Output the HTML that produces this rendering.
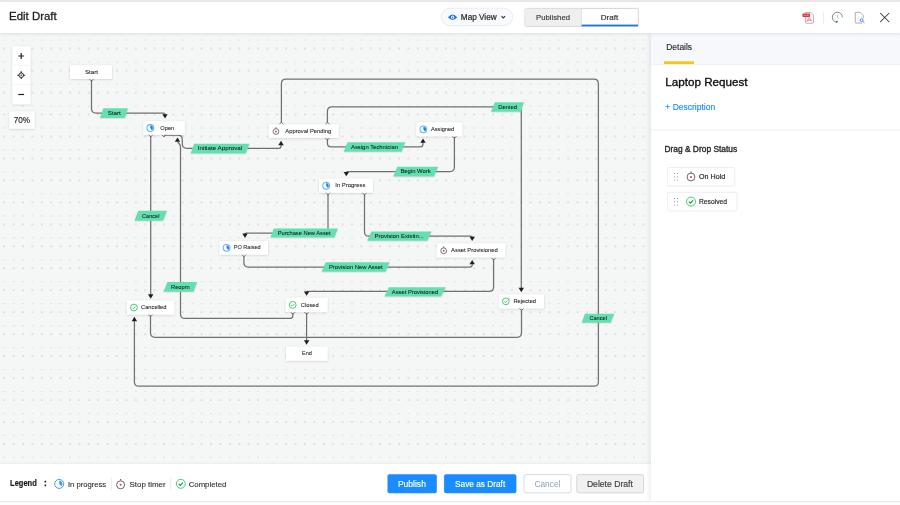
<!DOCTYPE html>
<html><head><meta charset="utf-8">
<style>
*{margin:0;padding:0;box-sizing:border-box}
html,body{width:900px;height:505px;overflow:hidden;background:#fff;font-family:"Liberation Sans",sans-serif;color:#222}
.abs{position:absolute}
#topline{left:0;top:0;width:900px;height:2px;background:#e9e9e9}
#header{left:0;top:2px;width:900px;height:31px;background:#fff;box-shadow:0 1px 3px rgba(0,0,0,0.10);z-index:5}
#canvas{left:0;top:33px;width:651px;height:431px;background:#f5f6f6;overflow:hidden}
#panel{left:651px;top:33px;width:249px;height:468px;background:#fff;box-shadow:-2px 0 4px rgba(0,0,0,0.07);z-index:4}
#footer{left:0;top:464px;width:651px;height:37px;background:#fff;box-shadow:0 -1px 2px rgba(0,0,0,0.05);z-index:3}
#bottom{left:0;top:501px;width:900px;height:4px;background:#fdfdfd;border-top:1px solid #e8e8e8;z-index:6}
svg text{font-family:"Liberation Sans",sans-serif}
svg{will-change:transform}
</style></head><body>
<div id="topline" class="abs"></div>
<div id="header" class="abs">
  <svg width="900" height="31" style="position:absolute;left:0;top:0" viewBox="0 2 900 31">
    <text x="9" y="19.5" font-size="11.6" fill="#1e1e1e" stroke="#1e1e1e" stroke-width="0.3" textLength="47.7" lengthAdjust="spacingAndGlyphs">Edit Draft</text>
    <!-- map view pill -->
    <rect x="441.3" y="8.2" width="71.4" height="17.4" rx="8.7" fill="#f9fafd" stroke="#e3e7ef" stroke-width="0.8"/>
    <path d="M448,17.2 Q452.6,11.8 457.2,17.2 Q452.6,22.6 448,17.2 Z" fill="#1f6fe0"/>
    <circle cx="452.6" cy="17.2" r="1.6" fill="#fff"/>
    <circle cx="452.6" cy="17.2" r="0.8" fill="#1f6fe0"/>
    <text x="460.8" y="20" font-size="9" fill="#222" stroke="#222" stroke-width="0.2" textLength="35.9" lengthAdjust="spacingAndGlyphs">Map View</text>
    <path d="M501.5,16.2 L503.3,18 L505.1,16.2" fill="none" stroke="#333" stroke-width="1.1"/>
    <!-- toggle -->
    <rect x="525" y="8.4" width="113.3" height="18" rx="1.5" fill="#fff" stroke="#c9c9c9" stroke-width="0.8"/>
    <rect x="525.4" y="8.8" width="56" height="17.2" fill="#efefef"/>
    <line x1="581.4" y1="8.6" x2="581.4" y2="26.2" stroke="#d4d4d4" stroke-width="0.6"/>
    <rect x="581.6" y="24.6" width="56.4" height="1.7" fill="#1a73e8"/>
    <text x="536" y="19.7" font-size="8" fill="#3a3a3a" stroke="#3a3a3a" stroke-width="0.15" textLength="34" lengthAdjust="spacingAndGlyphs">Published</text>
    <text x="600.8" y="19.7" font-size="8" fill="#2a2a2a" stroke="#2a2a2a" stroke-width="0.15" textLength="17.4" lengthAdjust="spacingAndGlyphs">Draft</text>
    <!-- pdf icon -->
    <path d="M805.6,12.5 H810.8 L813.4,15.1 V22.6 Q813.4,23.2 812.8,23.2 H806.2 Q805.6,23.2 805.6,22.6 Z" fill="#fff" stroke="#9a9a9a" stroke-width="0.75"/>
    <rect x="802.4" y="13.5" width="7.7" height="3.5" rx="1" fill="#e8323c"/>
    <path d="M803.8,15.3 H808.8" stroke="#fff" stroke-width="0.6" stroke-dasharray="1 0.5"/>
    <path d="M806.8,21.6 L809.3,17.6 L811.8,21.2 M807.6,20.3 H811" fill="none" stroke="#ef3a44" stroke-width="0.65"/>
    <line x1="823.6" y1="12" x2="823.6" y2="23.7" stroke="#e2e2e2" stroke-width="0.8"/>
    <!-- history -->
    <path d="M837.2,22.2 A5,5 0 1 1 842.3,17.3" fill="none" stroke="#707070" stroke-width="0.85"/>
    <path d="M837.6,14.6 V17.4 L838.8,18.4" fill="none" stroke="#9a9a9a" stroke-width="0.7"/>
    <circle cx="836.8" cy="21.8" r="1" fill="#1a73e8"/>
    <!-- doc search -->
    <path d="M855.3,12.4 H860.2 L863.2,15.4 V18.6 M862,23.1 H855.9 Q855.3,23.1 855.3,22.5 V12.4" fill="none" stroke="#9a9a9a" stroke-width="0.8"/>
    <path d="M857,15 V21 M858.5,16 V20" stroke="#e4e4e4" stroke-width="0.5"/>
    <circle cx="861.6" cy="20.2" r="1.4" fill="none" stroke="#2b7de9" stroke-width="0.85"/>
    <line x1="862.6" y1="21.2" x2="864.4" y2="22.9" stroke="#2b7de9" stroke-width="0.9"/>
    <!-- close -->
    <path d="M880.2,13 L889.2,22 M889.2,13 L880.2,22" stroke="#3a3a3a" stroke-width="1.05"/>
  </svg>
</div>

<div id="canvas" class="abs">
  <svg width="651" height="431" viewBox="0 33 651 431" style="position:absolute;left:0;top:0">
    <defs>
      <pattern id="dots" x="4.2" y="39.6" width="9.40" height="21.96" patternUnits="userSpaceOnUse">
        <rect x="-0.65" y="-0.65" width="1.3" height="1.3" fill="#c2c5c8"/>
        <rect x="-0.65" y="8.45" width="1.3" height="1.3" fill="#c2c5c8"/>
        <rect x="8.75" y="-0.65" width="1.3" height="1.3" fill="#c2c5c8"/>
        <rect x="8.75" y="8.45" width="1.3" height="1.3" fill="#c2c5c8"/>
      </pattern>
      <filter id="sh" x="-20%" y="-40%" width="140%" height="190%">
        <feDropShadow dx="0" dy="0.6" stdDeviation="0.9" flood-color="#000" flood-opacity="0.16"/>
      </filter>
      <filter id="lsh" x="-20%" y="-40%" width="140%" height="190%">
        <feDropShadow dx="0.3" dy="0.8" stdDeviation="0.6" flood-color="#c08080" flood-opacity="0.25"/>
      </filter>
    </defs>
    <rect x="0" y="33" width="651" height="431" fill="url(#dots)"/>
<path d="M91.50,80.00 L91.50,108.50 Q91.50,113.00 96.00,113.00 L163.50,113.00 Q165.00,113.00 165.00,114.50 L165.00,116.00" fill="none" stroke="#707070" stroke-width="1.25"/>
<path d="M162.30,114.20 L167.70,114.20 L165.00,118.60 Z" fill="#1e1e1e"/>
<path d="M163.90,135.10 L177.80,135.10 Q182.30,135.10 182.30,139.60 L182.30,143.80 Q182.30,148.30 186.80,148.30 L278.60,148.30 Q281.00,148.30 281.00,145.90 L281.00,143.50" fill="none" stroke="#707070" stroke-width="1.25"/>
<path d="M278.30,145.20 L283.70,145.20 L281.00,140.80 Z" fill="#1e1e1e"/>
<path d="M281.40,123.00 L281.40,83.50 Q281.40,79.00 285.90,79.00 L593.90,79.00 Q598.40,79.00 598.40,83.50 L598.40,381.70 Q598.40,386.20 593.90,386.20 L138.90,386.20 Q134.40,386.20 134.40,381.70 L134.40,319.50" fill="none" stroke="#707070" stroke-width="1.25"/>
<path d="M131.70,321.20 L137.10,321.20 L134.40,316.80 Z" fill="#1e1e1e"/>
<path d="M327.40,123.00 L327.40,111.40 Q327.40,106.90 331.90,106.90 L516.80,106.90 Q521.30,106.90 521.30,111.40 L521.30,289.50" fill="none" stroke="#707070" stroke-width="1.25"/>
<path d="M518.60,287.80 L524.00,287.80 L521.30,292.20 Z" fill="#1e1e1e"/>
<path d="M327.40,139.00 L327.40,142.90 Q327.40,146.80 331.30,146.80 L420.10,146.80 Q423.00,146.80 423.00,143.90 L423.00,141.00" fill="none" stroke="#707070" stroke-width="1.25"/>
<path d="M420.30,142.80 L425.70,142.80 L423.00,138.40 Z" fill="#1e1e1e"/>
<path d="M454.40,137.00 L454.40,167.10 Q454.40,171.60 449.90,171.60 L347.25,171.60 Q346.30,171.60 346.30,172.55 L346.30,173.50" fill="none" stroke="#707070" stroke-width="1.25"/>
<path d="M343.60,171.90 L349.00,171.90 L346.30,176.30 Z" fill="#1e1e1e"/>
<path d="M328.00,194.00 L328.00,228.70 Q328.00,233.20 323.50,233.20 L246.00,233.20 Q245.00,233.20 245.00,234.20 L245.00,235.20" fill="none" stroke="#707070" stroke-width="1.25"/>
<path d="M242.30,233.60 L247.70,233.60 L245.00,238.00 Z" fill="#1e1e1e"/>
<path d="M364.50,194.00 L364.50,231.70 Q364.50,236.20 369.00,236.20 L471.15,236.20 Q472.20,236.20 472.20,237.25 L472.20,238.30" fill="none" stroke="#707070" stroke-width="1.25"/>
<path d="M469.50,236.70 L474.90,236.70 L472.20,241.10 Z" fill="#1e1e1e"/>
<path d="M243.90,256.00 L243.90,262.50 Q243.90,267.00 248.40,267.00 L470.00,267.00 Q472.20,267.00 472.20,264.80 L472.20,262.60" fill="none" stroke="#707070" stroke-width="1.25"/>
<path d="M469.50,264.30 L474.90,264.30 L472.20,259.90 Z" fill="#1e1e1e"/>
<path d="M493.60,259.00 L493.60,286.90 Q493.60,291.40 489.10,291.40 L307.40,291.40 Q306.60,291.40 306.60,292.20 L306.60,293.00" fill="none" stroke="#707070" stroke-width="1.25"/>
<path d="M303.90,291.40 L309.30,291.40 L306.60,295.80 Z" fill="#1e1e1e"/>
<path d="M292.80,313.00 L292.80,315.70 Q292.80,318.40 290.10,318.40 L185.00,318.40 Q180.50,318.40 180.50,313.90 L180.50,147.12 Q180.50,145.00 179.00,143.50 L177.50,142.00" fill="none" stroke="#707070" stroke-width="1.25"/>
<path d="M174.80,141.80 L180.20,141.80 L177.50,137.40 Z" fill="#1e1e1e"/>
<path d="M306.60,313.00 L306.60,342.00" fill="none" stroke="#707070" stroke-width="1.25"/>
<path d="M303.90,340.30 L309.30,340.30 L306.60,344.70 Z" fill="#1e1e1e"/>
<path d="M150.70,136.00 L150.70,296.00" fill="none" stroke="#707070" stroke-width="1.25"/>
<path d="M148.00,294.30 L153.40,294.30 L150.70,298.70 Z" fill="#1e1e1e"/>
<path d="M150.50,315.50 L150.50,332.80 Q150.50,337.30 155.00,337.30 L517.00,337.30 Q521.50,337.30 521.50,332.80 L521.50,309.50" fill="none" stroke="#707070" stroke-width="1.25"/>
<rect x="70.00" y="65.30" width="42.00" height="13.70" fill="#fff" filter="url(#sh)"/>
<text x="84.90" y="73.70" textLength="13.10" lengthAdjust="spacingAndGlyphs" font-size="6" fill="#1a1a1a" stroke="#1a1a1a" stroke-width="0.07">Start</text>
<rect x="143.30" y="121.20" width="41.50" height="13.60" fill="#fff" filter="url(#sh)"/>
<circle cx="150.30" cy="128.00" r="3.40" fill="#fff" stroke="#62b3fb" stroke-width="1.05"/><path d="M150.30,128.00 L150.30,125.35 A2.65,2.65 0 0 1 151.82,130.17 Z" fill="#1f80ea"/>
<text x="160.30" y="129.55" textLength="14.00" lengthAdjust="spacingAndGlyphs" font-size="6" fill="#1a1a1a" stroke="#1a1a1a" stroke-width="0.07">Open</text>
<rect x="268.90" y="124.30" width="69.90" height="13.60" fill="#fff" filter="url(#sh)"/>
<circle cx="275.90" cy="131.50" r="2.89" fill="none" stroke="#555" stroke-width="0.8"/><rect x="275.30" y="127.40" width="1.2" height="1" fill="#555"/><circle cx="275.90" cy="131.50" r="0.9" fill="#e53935"/>
<text x="285.30" y="132.65" textLength="46.00" lengthAdjust="spacingAndGlyphs" font-size="6" fill="#1a1a1a" stroke="#1a1a1a" stroke-width="0.07">Approval Pending</text>
<rect x="416.40" y="122.30" width="45.80" height="14.00" fill="#fff" filter="url(#sh)"/>
<circle cx="423.40" cy="129.30" r="3.40" fill="#fff" stroke="#62b3fb" stroke-width="1.05"/><path d="M423.40,129.30 L423.40,126.65 A2.65,2.65 0 0 1 424.92,131.47 Z" fill="#1f80ea"/>
<text x="431.00" y="130.85" textLength="23.20" lengthAdjust="spacingAndGlyphs" font-size="6" fill="#1a1a1a" stroke="#1a1a1a" stroke-width="0.07">Assigned</text>
<rect x="319.20" y="178.60" width="53.80" height="14.20" fill="#fff" filter="url(#sh)"/>
<circle cx="326.20" cy="185.70" r="3.40" fill="#fff" stroke="#62b3fb" stroke-width="1.05"/><path d="M326.20,185.70 L326.20,183.05 A2.65,2.65 0 0 1 327.72,187.87 Z" fill="#1f80ea"/>
<text x="335.30" y="187.25" textLength="30.10" lengthAdjust="spacingAndGlyphs" font-size="6" fill="#1a1a1a" stroke="#1a1a1a" stroke-width="0.07">In Progress</text>
<rect x="219.60" y="241.00" width="48.40" height="13.60" fill="#fff" filter="url(#sh)"/>
<circle cx="226.60" cy="247.80" r="3.40" fill="#fff" stroke="#62b3fb" stroke-width="1.05"/><path d="M226.60,247.80 L226.60,245.15 A2.65,2.65 0 0 1 228.12,249.97 Z" fill="#1f80ea"/>
<text x="233.80" y="249.35" textLength="26.80" lengthAdjust="spacingAndGlyphs" font-size="6" fill="#1a1a1a" stroke="#1a1a1a" stroke-width="0.07">PO Raised</text>
<rect x="436.70" y="243.40" width="68.40" height="13.90" fill="#fff" filter="url(#sh)"/>
<circle cx="443.70" cy="250.75" r="2.89" fill="none" stroke="#555" stroke-width="0.8"/><rect x="443.10" y="246.65" width="1.2" height="1" fill="#555"/><circle cx="443.70" cy="250.75" r="0.9" fill="#e53935"/>
<text x="451.10" y="251.90" textLength="46.70" lengthAdjust="spacingAndGlyphs" font-size="6" fill="#1a1a1a" stroke="#1a1a1a" stroke-width="0.07">Asset Provisioned</text>
<rect x="285.70" y="297.80" width="41.90" height="14.30" fill="#fff" filter="url(#sh)"/>
<circle cx="292.70" cy="304.95" r="3.40" fill="none" stroke="#35c46a" stroke-width="0.9"/><path d="M291.10,305.05 l1.10,1.10 l2.20,-2.20" fill="none" stroke="#35c46a" stroke-width="0.9"/>
<text x="300.80" y="306.50" textLength="17.90" lengthAdjust="spacingAndGlyphs" font-size="6" fill="#1a1a1a" stroke="#1a1a1a" stroke-width="0.07">Closed</text>
<rect x="286.00" y="346.90" width="41.60" height="13.90" fill="#fff" filter="url(#sh)"/>
<text x="302.10" y="355.40" textLength="9.80" lengthAdjust="spacingAndGlyphs" font-size="6" fill="#1a1a1a" stroke="#1a1a1a" stroke-width="0.07">End</text>
<rect x="126.90" y="300.50" width="47.40" height="14.10" fill="#fff" filter="url(#sh)"/>
<circle cx="133.90" cy="307.55" r="3.40" fill="none" stroke="#35c46a" stroke-width="0.9"/><path d="M132.30,307.65 l1.10,1.10 l2.20,-2.20" fill="none" stroke="#35c46a" stroke-width="0.9"/>
<text x="141.00" y="309.10" textLength="25.50" lengthAdjust="spacingAndGlyphs" font-size="6" fill="#1a1a1a" stroke="#1a1a1a" stroke-width="0.07">Cancelled</text>
<rect x="498.90" y="294.30" width="45.10" height="14.10" fill="#fff" filter="url(#sh)"/>
<circle cx="505.90" cy="301.35" r="3.40" fill="none" stroke="#35c46a" stroke-width="0.9"/><path d="M504.30,301.45 l1.10,1.10 l2.20,-2.20" fill="none" stroke="#35c46a" stroke-width="0.9"/>
<text x="513.50" y="302.90" textLength="22.50" lengthAdjust="spacingAndGlyphs" font-size="6" fill="#1a1a1a" stroke="#1a1a1a" stroke-width="0.07">Rejected</text>
<path d="M103.30,108.30 L128.00,108.30 L124.80,117.90 L99.90,117.90 Z" fill="#64dfb2" filter="url(#lsh)"/>
<text x="107.70" y="114.90" textLength="13.00" lengthAdjust="spacingAndGlyphs" font-size="6" fill="#0a1a12" stroke="#0a1a12" stroke-width="0.06">Start</text>
<path d="M194.10,143.80 L249.40,143.80 L245.70,153.40 L190.60,153.40 Z" fill="#64dfb2" filter="url(#lsh)"/>
<text x="197.80" y="150.40" textLength="44.40" lengthAdjust="spacingAndGlyphs" font-size="6" fill="#0a1a12" stroke="#0a1a12" stroke-width="0.06">Initiate Approval</text>
<path d="M347.50,142.20 L405.20,142.20 L401.60,151.70 L343.70,151.70 Z" fill="#64dfb2" filter="url(#lsh)"/>
<text x="351.00" y="148.75" textLength="47.00" lengthAdjust="spacingAndGlyphs" font-size="6" fill="#0a1a12" stroke="#0a1a12" stroke-width="0.06">Assign Technician</text>
<path d="M397.30,166.80 L438.10,166.80 L434.20,176.40 L393.20,176.40 Z" fill="#64dfb2" filter="url(#lsh)"/>
<text x="400.40" y="173.40" textLength="30.30" lengthAdjust="spacingAndGlyphs" font-size="6" fill="#0a1a12" stroke="#0a1a12" stroke-width="0.06">Begin Work</text>
<path d="M273.80,228.60 L337.90,228.60 L334.40,237.60 L270.40,237.60 Z" fill="#64dfb2" filter="url(#lsh)"/>
<text x="277.70" y="234.90" textLength="52.90" lengthAdjust="spacingAndGlyphs" font-size="6" fill="#0a1a12" stroke="#0a1a12" stroke-width="0.06">Purchase New Asset</text>
<path d="M371.30,231.50 L431.30,231.50 L427.40,240.70 L367.20,240.70 Z" fill="#64dfb2" filter="url(#lsh)"/>
<text x="374.50" y="237.90" textLength="49.30" lengthAdjust="spacingAndGlyphs" font-size="6" fill="#0a1a12" stroke="#0a1a12" stroke-width="0.06">Provision Existin...</text>
<path d="M325.60,262.30 L389.60,262.30 L385.60,271.70 L321.60,271.70 Z" fill="#64dfb2" filter="url(#lsh)"/>
<text x="328.90" y="268.80" textLength="53.80" lengthAdjust="spacingAndGlyphs" font-size="6" fill="#0a1a12" stroke="#0a1a12" stroke-width="0.06">Provision New Asset</text>
<path d="M388.90,287.20 L445.60,287.20 L441.10,296.60 L384.40,296.60 Z" fill="#64dfb2" filter="url(#lsh)"/>
<text x="391.80" y="293.70" textLength="46.40" lengthAdjust="spacingAndGlyphs" font-size="6" fill="#0a1a12" stroke="#0a1a12" stroke-width="0.06">Asset Provisioned</text>
<path d="M138.30,210.70 L167.00,210.70 L163.10,220.80 L134.40,220.80 Z" fill="#64dfb2" filter="url(#lsh)"/>
<text x="142.00" y="217.55" textLength="17.40" lengthAdjust="spacingAndGlyphs" font-size="6" fill="#0a1a12" stroke="#0a1a12" stroke-width="0.06">Cancel</text>
<path d="M167.30,282.10 L197.20,282.10 L193.50,291.80 L163.60,291.80 Z" fill="#64dfb2" filter="url(#lsh)"/>
<text x="171.00" y="288.75" textLength="18.80" lengthAdjust="spacingAndGlyphs" font-size="6" fill="#0a1a12" stroke="#0a1a12" stroke-width="0.06">Reoprn</text>
<path d="M494.90,102.20 L524.00,102.20 L520.60,111.70 L490.90,111.70 Z" fill="#64dfb2" filter="url(#lsh)"/>
<text x="498.20" y="108.75" textLength="18.80" lengthAdjust="spacingAndGlyphs" font-size="6" fill="#0a1a12" stroke="#0a1a12" stroke-width="0.06">Denied</text>
<path d="M585.00,313.70 L614.30,313.70 L610.70,322.80 L581.60,322.80 Z" fill="#64dfb2" filter="url(#lsh)"/>
<text x="589.40" y="320.05" textLength="17.50" lengthAdjust="spacingAndGlyphs" font-size="6" fill="#0a1a12" stroke="#0a1a12" stroke-width="0.06">Cancel</text>
<path d="M89.50,79.00 L91.50,81.20 L93.50,79.00" fill="none" stroke="#707070" stroke-width="0.9"/>
<path d="M148.70,134.80 L150.70,137.00 L152.70,134.80" fill="none" stroke="#707070" stroke-width="0.9"/>
<path d="M161.90,134.80 L163.90,137.00 L165.90,134.80" fill="none" stroke="#707070" stroke-width="0.9"/>
<path d="M279.40,124.30 L281.40,122.10 L283.40,124.30" fill="none" stroke="#707070" stroke-width="0.9"/>
<path d="M325.40,124.30 L327.40,122.10 L329.40,124.30" fill="none" stroke="#707070" stroke-width="0.9"/>
<path d="M325.40,137.90 L327.40,140.10 L329.40,137.90" fill="none" stroke="#707070" stroke-width="0.9"/>
<path d="M452.40,136.30 L454.40,138.50 L456.40,136.30" fill="none" stroke="#707070" stroke-width="0.9"/>
<path d="M326.00,192.80 L328.00,195.00 L330.00,192.80" fill="none" stroke="#707070" stroke-width="0.9"/>
<path d="M362.50,192.80 L364.50,195.00 L366.50,192.80" fill="none" stroke="#707070" stroke-width="0.9"/>
<path d="M241.90,254.60 L243.90,256.80 L245.90,254.60" fill="none" stroke="#707070" stroke-width="0.9"/>
<path d="M491.60,257.90 L493.60,260.10 L495.60,257.90" fill="none" stroke="#707070" stroke-width="0.9"/>
<path d="M290.80,312.10 L292.80,314.30 L294.80,312.10" fill="none" stroke="#707070" stroke-width="0.9"/>
<path d="M304.60,312.10 L306.60,314.30 L308.60,312.10" fill="none" stroke="#707070" stroke-width="0.9"/>
<path d="M148.50,314.60 L150.50,316.80 L152.50,314.60" fill="none" stroke="#707070" stroke-width="0.9"/>
<path d="M519.50,308.40 L521.50,310.60 L523.50,308.40" fill="none" stroke="#707070" stroke-width="0.9"/>
    <!-- zoom controls -->
    <rect x="12.4" y="46.2" width="18.1" height="58.1" rx="1.5" fill="#fff" filter="url(#sh)"/>
    <line x1="13" y1="65.4" x2="30" y2="65.4" stroke="#f0f0f0" stroke-width="0.8"/>
    <line x1="13" y1="84.7" x2="30" y2="84.7" stroke="#f0f0f0" stroke-width="0.8"/>
    <path d="M18.3,56 H24.1 M21.2,53.1 V58.9" stroke="#222" stroke-width="1.2"/>
    <circle cx="21.2" cy="75.2" r="2.3" fill="none" stroke="#222" stroke-width="1"/>
    <circle cx="21.2" cy="75.2" r="0.8" fill="#333"/>
    <path d="M21.2,71.3 V73 M21.2,77.4 V79.1 M17.3,75.2 H19 M23.4,75.2 H25.1" stroke="#222" stroke-width="1.1"/>
    <path d="M18.3,94.5 H24.1" stroke="#222" stroke-width="1.2"/>
    <rect x="9.4" y="111.4" width="25.4" height="17.3" rx="1.5" fill="#fff" filter="url(#sh)"/>
    <text x="13.7" y="123" font-size="8.4" fill="#222" stroke="#222" stroke-width="0.15" textLength="16.3" lengthAdjust="spacingAndGlyphs">70%</text>
  </svg>
</div>

<div id="panel" class="abs">
  <svg width="249" height="468" viewBox="651 33 249 468" style="position:absolute;left:0;top:0">
    <rect x="651" y="33" width="249" height="31.5" fill="#f7f8fc"/>
    <line x1="651" y1="64.6" x2="900" y2="64.6" stroke="#eceef3" stroke-width="0.8"/>
    <rect x="664" y="61.3" width="30" height="2.7" fill="#f5c518"/>
    <text x="666.3" y="50.2" font-size="9.6" fill="#2a2a2a" stroke="#2a2a2a" stroke-width="0.15" textLength="25.7" lengthAdjust="spacingAndGlyphs">Details</text>
    <text x="665.3" y="86.1" font-size="11.6" fill="#111" stroke="#111" stroke-width="0.35" textLength="82.2" lengthAdjust="spacingAndGlyphs">Laptop Request</text>
    <text x="665.3" y="109.8" font-size="8.7" fill="#1a8cff" stroke="#1a8cff" stroke-width="0.15" textLength="49.9" lengthAdjust="spacingAndGlyphs">+ Description</text>
    <line x1="651" y1="129.9" x2="900" y2="129.9" stroke="#eceef3" stroke-width="1"/>
    <text x="664.4" y="151.9" font-size="8.5" fill="#2a2a2a" stroke="#2a2a2a" stroke-width="0.35" textLength="72.8" lengthAdjust="spacingAndGlyphs">Drag &amp; Drop Status</text>
    <rect x="667.6" y="167.6" width="67.2" height="18.4" rx="1.5" fill="#fff" stroke="#e9e9e9" stroke-width="0.8"/>
    <g fill="#999">
      <rect x="674.2" y="173" width="1" height="1"/><rect x="677" y="173" width="1" height="1"/>
      <rect x="674.2" y="176.4" width="1" height="1"/><rect x="677" y="176.4" width="1" height="1"/>
      <rect x="674.2" y="179.7" width="1" height="1"/><rect x="677" y="179.7" width="1" height="1"/>
    </g>
    <circle cx="691" cy="177" r="3.9" fill="none" stroke="#444" stroke-width="0.8"/>
    <rect x="690.4" y="171.6" width="1.2" height="1" fill="#444"/>
    <circle cx="691" cy="177" r="1" fill="#e53935"/>
    <text x="699" y="179.4" font-size="8" fill="#1a1a1a" stroke="#1a1a1a" stroke-width="0.15" textLength="26.2" lengthAdjust="spacingAndGlyphs">On Hold</text>
    <rect x="667.6" y="192.3" width="69.3" height="18.7" rx="1.5" fill="#fff" stroke="#e9e9e9" stroke-width="0.8"/>
    <g fill="#999">
      <rect x="674.2" y="198" width="1" height="1"/><rect x="677" y="198" width="1" height="1"/>
      <rect x="674.2" y="201.4" width="1" height="1"/><rect x="677" y="201.4" width="1" height="1"/>
      <rect x="674.2" y="204.7" width="1" height="1"/><rect x="677" y="204.7" width="1" height="1"/>
    </g>
    <circle cx="691" cy="201.6" r="4.5" fill="none" stroke="#35c46a" stroke-width="0.9"/>
    <path d="M688.9,201.6 l1.5,1.5 l2.7,-2.7" fill="none" stroke="#1f9a48" stroke-width="1.25"/>
    <text x="699" y="204.3" font-size="8" fill="#1a1a1a" stroke="#1a1a1a" stroke-width="0.15" textLength="28" lengthAdjust="spacingAndGlyphs">Resolved</text>
  </svg>
</div>

<div id="footer" class="abs">
  <svg width="651" height="37" viewBox="0 464 651 37" style="position:absolute;left:0;top:0">
    <text x="10.1" y="486" font-size="8.3" font-weight="bold" fill="#1a1a1a" stroke="#1a1a1a" stroke-width="0.2" textLength="26.7" lengthAdjust="spacingAndGlyphs">Legend</text>
    <text x="43.9" y="486.3" font-size="8.5" font-weight="bold" fill="#1a1a1a" stroke="#1a1a1a" stroke-width="0.3">:</text>
    <circle cx="59.2" cy="483.9" r="4.5" fill="none" stroke="#3d9bf5" stroke-width="1"/>
    <path d="M59.2,483.9 L59.2,480.6 A3.3,3.3 0 0 1 61.5,486.2 Z" fill="#3d9bf5"/>
    <text x="67.9" y="486.8" font-size="8" fill="#2a2a2a" stroke="#2a2a2a" stroke-width="0.1" textLength="38.3" lengthAdjust="spacingAndGlyphs">In progress</text>
    <line x1="111.5" y1="478" x2="111.5" y2="489.7" stroke="#e6e6e6" stroke-width="0.8"/>
    <circle cx="120.6" cy="484.8" r="4" fill="none" stroke="#444" stroke-width="0.8"/>
    <rect x="120" y="479.2" width="1.2" height="1" fill="#444"/>
    <circle cx="120.6" cy="484.8" r="1" fill="#e53935"/>
    <text x="129.5" y="486.8" font-size="8" fill="#2a2a2a" stroke="#2a2a2a" stroke-width="0.1" textLength="36.1" lengthAdjust="spacingAndGlyphs">Stop timer</text>
    <line x1="170.7" y1="478" x2="170.7" y2="489.7" stroke="#e6e6e6" stroke-width="0.8"/>
    <circle cx="180.8" cy="483.8" r="4.5" fill="none" stroke="#35c46a" stroke-width="0.9"/>
    <path d="M178.7,483.8 l1.5,1.5 l2.7,-2.7" fill="none" stroke="#1f9a48" stroke-width="1.2"/>
    <text x="188.7" y="486.8" font-size="8" fill="#2a2a2a" stroke="#2a2a2a" stroke-width="0.1" textLength="37.6" lengthAdjust="spacingAndGlyphs">Completed</text>
    <!-- buttons -->
    <rect x="387.5" y="474.2" width="49.3" height="19" rx="2" fill="#1a8cff"/>
    <text x="397.9" y="486.7" font-size="8.5" fill="#fff" stroke="#fff" stroke-width="0.15" textLength="28" lengthAdjust="spacingAndGlyphs">Publish</text>
    <rect x="444.1" y="474.2" width="72.3" height="19" rx="2" fill="#1a8cff"/>
    <text x="455" y="486.7" font-size="8.5" fill="#fff" stroke="#fff" stroke-width="0.15" textLength="50.2" lengthAdjust="spacingAndGlyphs">Save as Draft</text>
    <rect x="524" y="474.6" width="47" height="18.3" rx="2" fill="#fff" stroke="#cdd9e5" stroke-width="0.9"/>
    <text x="534.4" y="486.7" font-size="8.5" fill="#8ea3b8" textLength="26" lengthAdjust="spacingAndGlyphs">Cancel</text>
    <rect x="576.8" y="474.6" width="66.8" height="18.3" rx="2" fill="#f1f1f1" stroke="#d3d3d3" stroke-width="0.9"/>
    <text x="586.9" y="486.7" font-size="8.5" fill="#3a3a3a" stroke="#3a3a3a" stroke-width="0.15" textLength="46" lengthAdjust="spacingAndGlyphs">Delete Draft</text>
  </svg>
</div>
<div id="bottom" class="abs"></div>
</body></html>
